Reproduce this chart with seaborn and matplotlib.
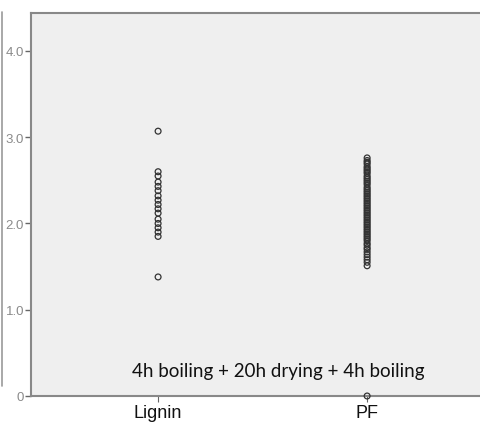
import matplotlib
matplotlib.use("Agg")
import matplotlib.pyplot as plt
import seaborn as sns
import pandas as pd
from matplotlib.lines import Line2D

categories = ["Lignin", "PF"]
lignin_values = [3.07, 2.60, 2.55, 2.48, 2.43, 2.38, 2.32, 2.27, 2.22, 2.17,
                 2.12, 2.05, 2.00, 1.95, 1.90, 1.85, 1.38]
pf_values = [2.76, 2.73, 2.71, 2.69, 2.66, 2.64, 2.62, 2.60, 2.58, 2.55,
             2.53, 2.51, 2.49, 2.47, 2.45, 2.42, 2.40, 2.38, 2.36, 2.34,
             2.32, 2.30, 2.28, 2.26, 2.24, 2.22, 2.20, 2.18, 2.16, 2.14,
             2.12, 2.10, 2.08, 2.06, 2.04, 2.02, 2.00, 1.98, 1.96, 1.94,
             1.92, 1.90, 1.88, 1.86, 1.84, 1.82, 1.80, 1.77, 1.75, 1.72,
             1.70, 1.67, 1.64, 1.61, 1.58, 1.55, 1.51, 0.0]
y_ticks = [0, 1.0, 2.0, 3.0, 4.0]
y_ticklabels = ["0", "1.0", "2.0", "3.0", "4.0"]
annotation = "4h boiling + 20h drying + 4h boiling"

df = pd.DataFrame({
    "group": [categories[0]] * len(lignin_values) + [categories[1]] * len(pf_values),
    "value": lignin_values + pf_values,
})

sns.set_style("white")
plt.rcParams["font.family"] = ["Liberation Sans", "DejaVu Sans"]

fig = plt.figure(figsize=(4.8, 4.27), dpi=100)
ax = fig.add_axes([31 / 480, 30 / 427, 1 - 31 / 480, (397 - 14) / 427])
ax.set_facecolor("#efefef")

sns.stripplot(data=df, x="group", y="value", order=categories, jitter=False,
              size=4.2, color="#333333", linewidth=0.9, edgecolor="#333333", ax=ax)
for c in ax.collections:
    c.set_facecolor("none")
    c.set_edgecolor("#333333")
    c.set_linewidth(0.9)

ax.set_xlim(-0.608, 1.54)
ax.set_ylim(0, 4.44)
ax.set_yticks(y_ticks)
ax.set_yticklabels(y_ticklabels, fontsize=9.5, color="#8a8a8a")
ax.set_xlabel("")
ax.set_ylabel("")
ax.tick_params(axis="y", direction="out", length=4, width=1, color="#666666", pad=1, left=True)
ax.tick_params(axis="x", direction="out", length=4, width=0.8, color="#666666", labelsize=13,
               labelcolor="#111111", pad=2, bottom=True)
for s in ["left", "top", "bottom"]:
    ax.spines[s].set_color("#888888")
    ax.spines[s].set_linewidth(1.5)
ax.spines["right"].set_visible(False)
for c in ax.collections:
    c.set_clip_on(False)

ax.text(0.574, 0.29, annotation, fontsize=13.5, family=["Lato", "DejaVu Sans"], color="#111111",
        ha="center", va="center", transform=ax.transData)

fig.add_artist(Line2D([1.5 / 480, 1.5 / 480], [1 - 13 / 427, 1 - 387 / 427],
                      transform=fig.transFigure, color="#999999", lw=1.2))

fig.savefig("out.png", dpi=100)
